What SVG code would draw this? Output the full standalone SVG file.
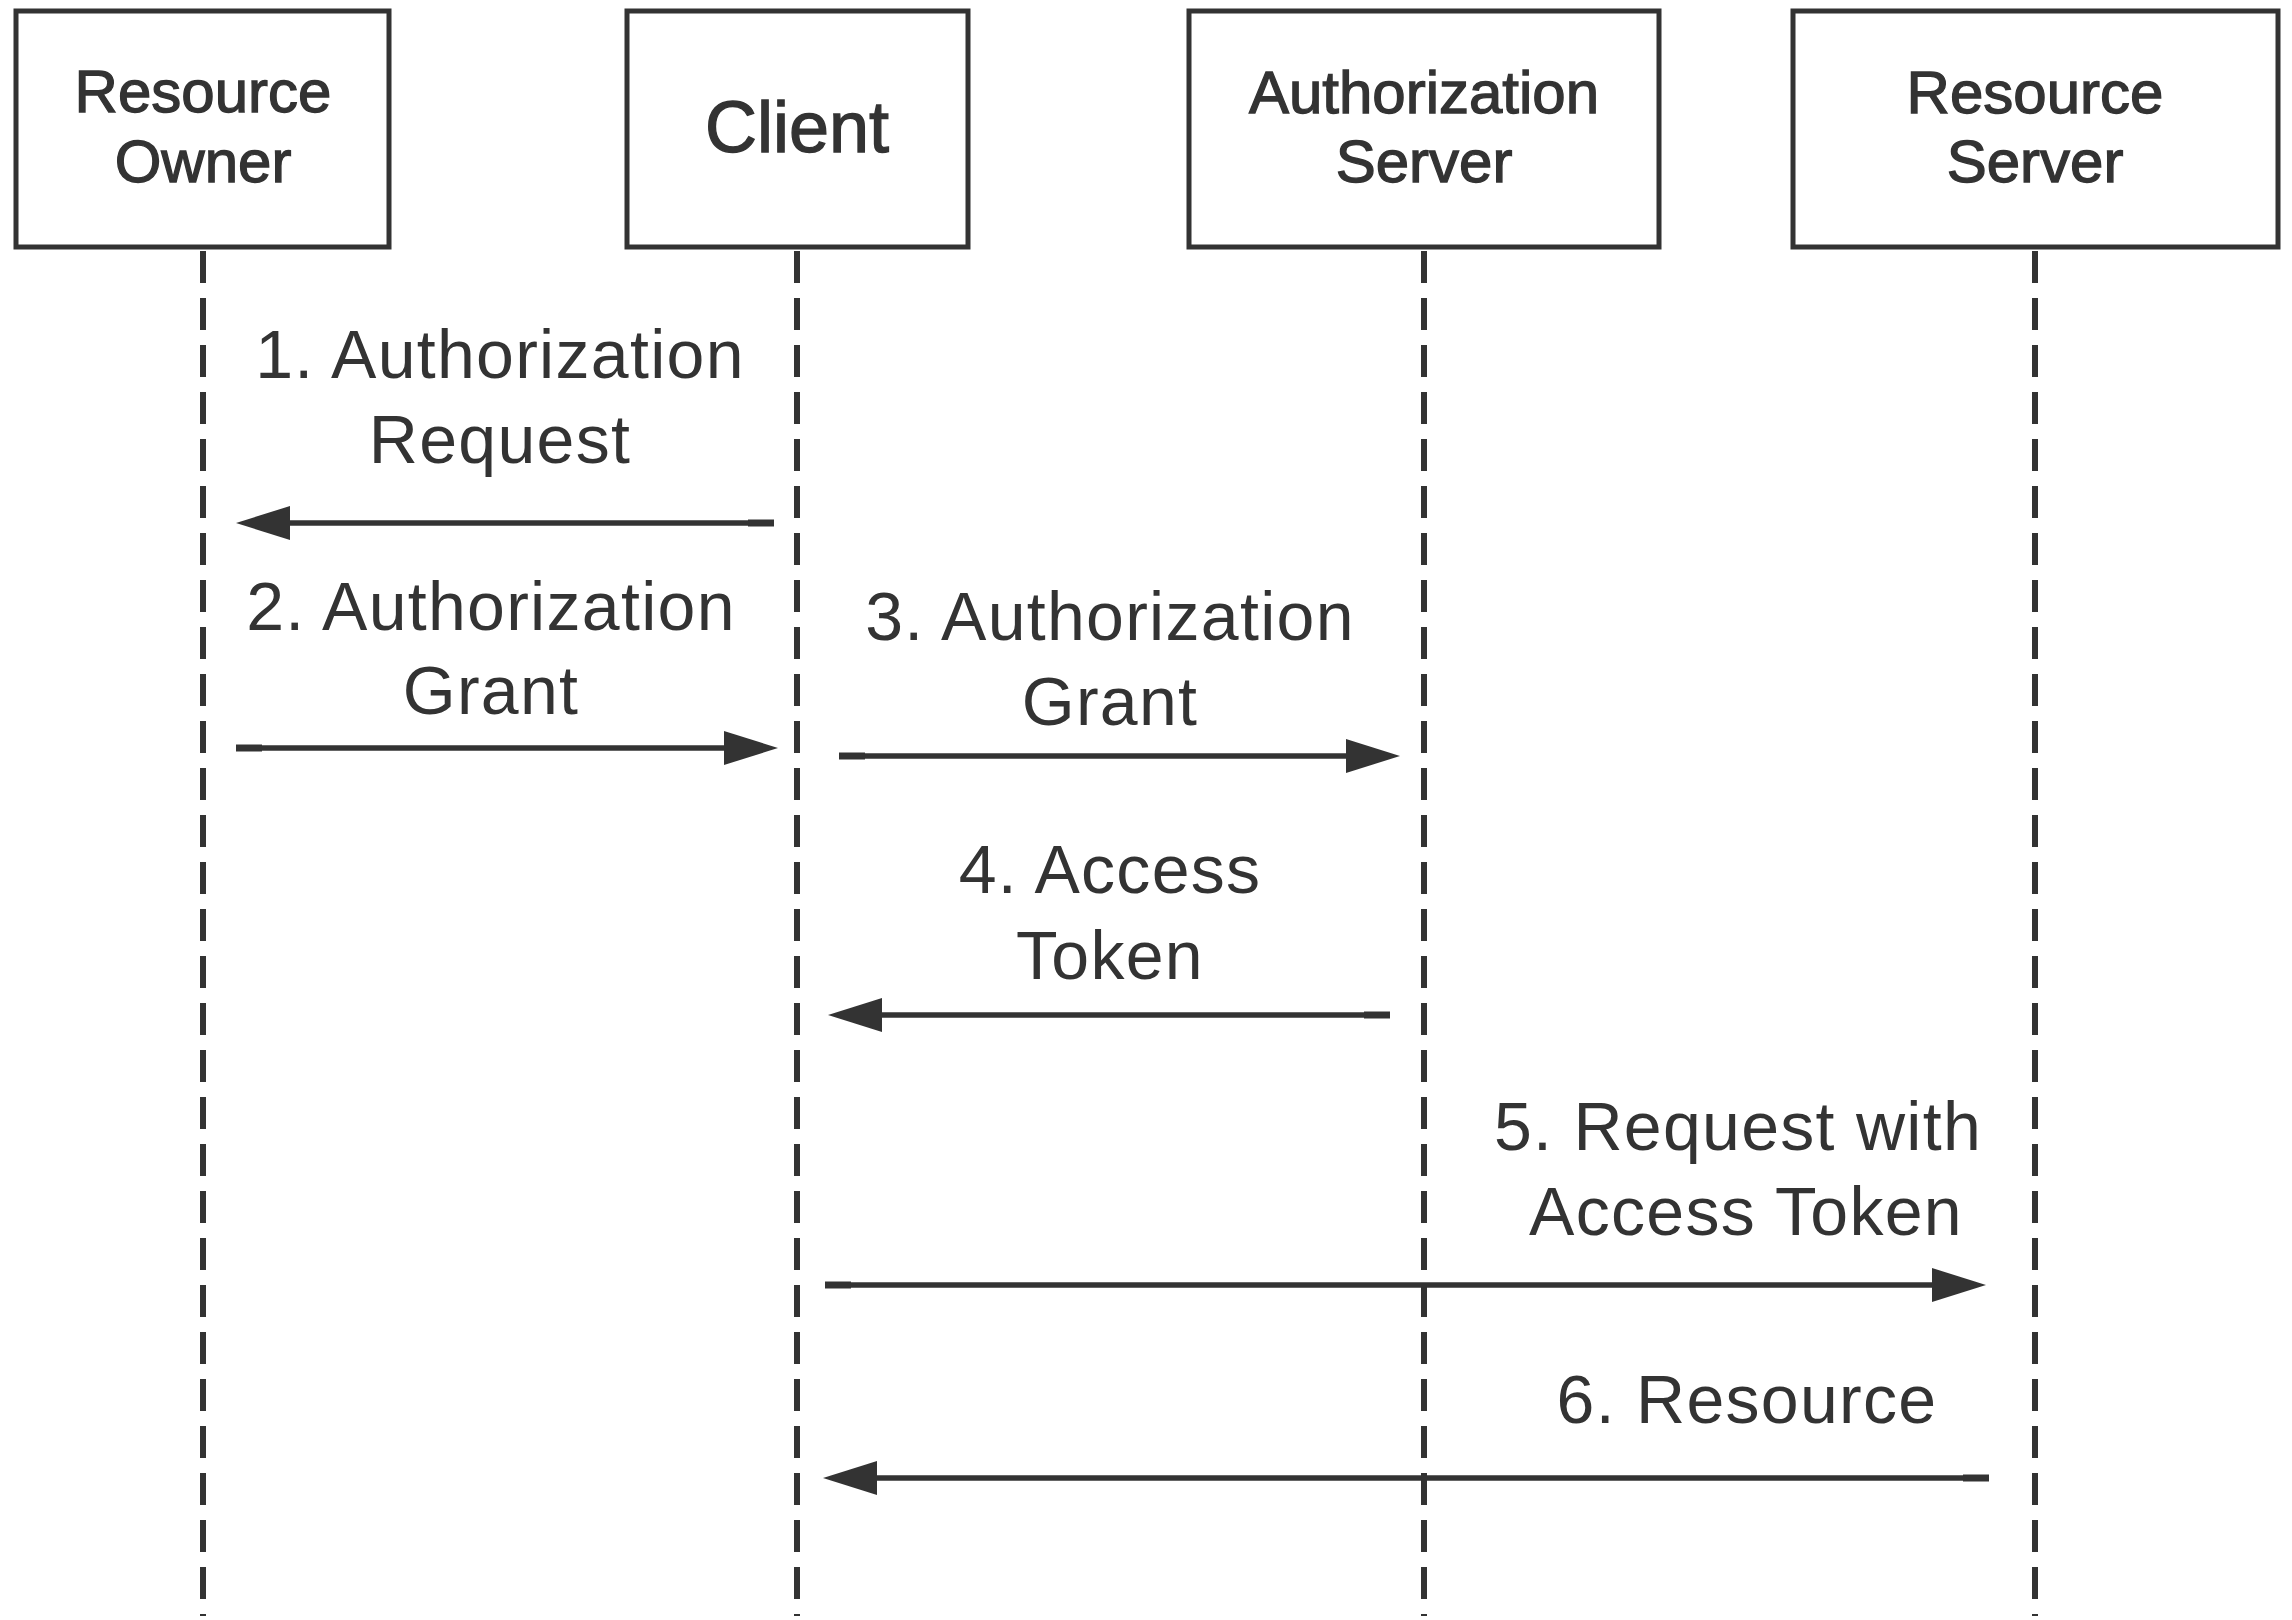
<svg xmlns="http://www.w3.org/2000/svg" width="2292" height="1620" viewBox="0 0 2292 1620">
<style>
.box{fill:#ffffff;stroke:#333333;stroke-width:5}
.lbl{font-family:"Liberation Sans",Arial,sans-serif;font-size:60px;fill:#333333;stroke:#333333;stroke-width:1.3;text-anchor:middle}
.big{font-size:72px}
.life{stroke:#333333;stroke-width:6;stroke-dasharray:32 15;fill:none}
.msg{stroke:#333333;stroke-width:5.5;fill:none}
.tail{stroke:#333333;stroke-width:7;fill:none}
.mt{font-family:"Liberation Sans",Arial,sans-serif;font-size:68px;letter-spacing:1.3px;fill:#333333;text-anchor:middle}
</style>
<defs>
<marker id="ah" markerUnits="userSpaceOnUse" markerWidth="56" markerHeight="36" refX="34" refY="17" orient="auto">
<path d="M0,0 L54,17 L0,34 z" fill="#333333"/>
</marker>
</defs>
<rect width="2292" height="1620" fill="#ffffff"/>
<g id="lifelines">
<line class="life" x1="203" y1="251" x2="203" y2="1616"/>
<line class="life" x1="797" y1="251" x2="797" y2="1616"/>
<line class="life" x1="1424" y1="251" x2="1424" y2="1616"/>
<line class="life" x1="2035" y1="251" x2="2035" y2="1616"/>
</g>
<g id="resource-owner">
<rect class="box" x="16" y="11" width="373" height="236"/>
<text class="lbl" x="203" y="112">Resource</text>
<text class="lbl" x="203" y="182">Owner</text>
</g>
<g id="client">
<rect class="box" x="627" y="11" width="341" height="236"/>
<text class="lbl big" x="797" y="152">Client</text>
</g>
<g id="authorization-server">
<rect class="box" x="1189" y="11" width="470" height="236"/>
<text class="lbl" x="1424" y="113">Authorization</text>
<text class="lbl" x="1424" y="182">Server</text>
</g>
<g id="resource-server">
<rect class="box" x="1793" y="11" width="485" height="236"/>
<text class="lbl" x="2035" y="113">Resource</text>
<text class="lbl" x="2035" y="182">Server</text>
</g>
<g id="connectors">
<line class="msg" x1="774" y1="523" x2="256" y2="523" marker-end="url(#ah)"/>
<line class="tail" x1="774" y1="523" x2="748" y2="523"/>
<line class="msg" x1="236" y1="748" x2="758" y2="748" marker-end="url(#ah)"/>
<line class="tail" x1="236" y1="748" x2="262" y2="748"/>
<line class="msg" x1="839" y1="756" x2="1380" y2="756" marker-end="url(#ah)"/>
<line class="tail" x1="839" y1="756" x2="865" y2="756"/>
<line class="msg" x1="1390" y1="1015" x2="848" y2="1015" marker-end="url(#ah)"/>
<line class="tail" x1="1390" y1="1015" x2="1364" y2="1015"/>
<line class="msg" x1="825" y1="1285" x2="1966" y2="1285" marker-end="url(#ah)"/>
<line class="tail" x1="825" y1="1285" x2="851" y2="1285"/>
<line class="msg" x1="1989" y1="1478" x2="843" y2="1478" marker-end="url(#ah)"/>
<line class="tail" x1="1989" y1="1478" x2="1963" y2="1478"/>
</g>
<g id="labels">
<text class="mt" x="500" y="378">1. Authorization</text>
<text class="mt" x="500" y="463">Request</text>
<text class="mt" x="491" y="630">2. Authorization</text>
<text class="mt" x="491" y="714">Grant</text>
<text class="mt" x="1110" y="640">3. Authorization</text>
<text class="mt" x="1110" y="725">Grant</text>
<text class="mt" x="1110" y="893">4. Access</text>
<text class="mt" x="1110" y="979">Token</text>
<text class="mt" x="1738" y="1150">5. Request with</text>
<text class="mt" x="1746" y="1235">Access Token</text>
<text class="mt" x="1747" y="1423">6. Resource</text>
</g>
</svg>
